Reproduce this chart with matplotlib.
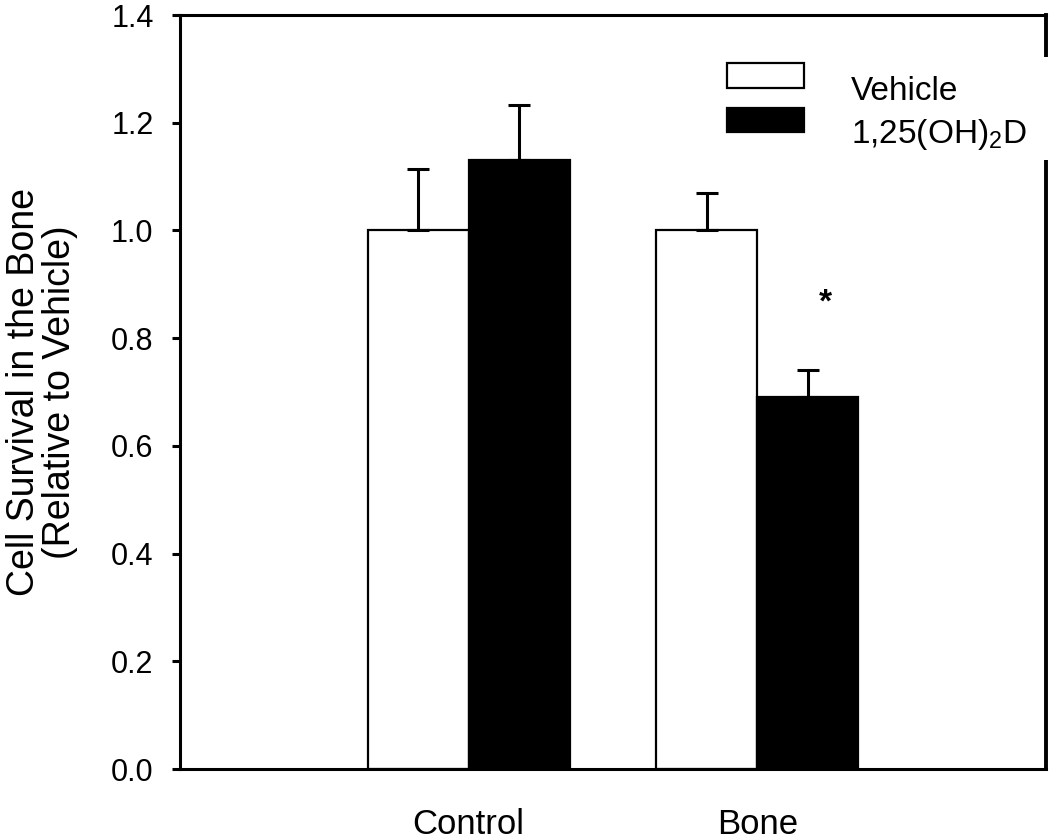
import matplotlib
matplotlib.use("Agg")
import matplotlib.pyplot as plt
import matplotlib.patches as mpatches

plt.rcParams['font.family'] = ['Liberation Sans', 'DejaVu Sans']
plt.rcParams['mathtext.fontset'] = 'custom'
plt.rcParams['mathtext.rm'] = 'Liberation Sans'
plt.rcParams['mathtext.default'] = 'regular'

# data
groups = ["Control", "Bone"]
series = ["Vehicle", "1,25(OH)$_2$D"]
vehicle = [1.00, 1.00]
vehicle_err = [0.115, 0.07]
treated = [1.13, 0.69]
treated_err = [0.103, 0.05]
colors = ["white", "black"]

fig = plt.figure(figsize=(10.5, 8.39), dpi=100)
ax = fig.add_axes([0.1714, 0.0834, 0.8248, 0.8987])

pos = [1, 2]
w = 0.35
err_kw = dict(ecolor="black", elinewidth=2.2, capsize=8, capthick=2.2)

ax.bar([p - w / 2 for p in pos], vehicle, w, color=colors[0], edgecolor="black",
       linewidth=1.6, yerr=[[0, 0], vehicle_err], error_kw=err_kw)
ax.bar([p + w / 2 for p in pos], treated, w, color=colors[1], edgecolor="black",
       linewidth=1.6, yerr=[[0, 0], treated_err], error_kw=err_kw)

# significance star over the treated bone bar
ax.text(pos[1] + w / 2 + 0.06, treated[1] + treated_err[1] + 0.125, "*",
        ha="center", va="center", fontsize=24, fontweight="bold")

ax.set_xlim(0, 3)
ax.set_ylim(0, 1.4)
ax.set_xticks(pos)
ax.set_xticklabels(groups, fontsize=25)
ax.set_yticks([0.0, 0.2, 0.4, 0.6, 0.8, 1.0, 1.2, 1.4])
ax.set_yticklabels(["0.0", "0.2", "0.4", "0.6", "0.8", "1.0", "1.2", "1.4"], fontsize=22)
ax.tick_params(axis="x", length=0, pad=28)
ax.tick_params(axis="y", direction="out", length=6, width=2.2, pad=13)
ax.set_ylabel("Cell Survival in the Bone\n(Relative to Vehicle)", fontsize=27,
              labelpad=24, linespacing=1.0)

for s in ["left", "bottom", "top"]:
    ax.spines[s].set_linewidth(2.2)
ax.spines["right"].set_linewidth(2.8)

# legend sits on a white box that also breaks the right border
ax.add_patch(mpatches.Rectangle((0.7905, 0.809), 0.3, 0.123, transform=fig.transFigure,
                                facecolor="white", edgecolor="none", zorder=6,
                                clip_on=False))
ax.add_patch(mpatches.Rectangle((0.632, 0.903), 0.088, 0.033, transform=ax.transAxes,
                                facecolor=colors[0], edgecolor="black", linewidth=1.6,
                                zorder=7))
ax.add_patch(mpatches.Rectangle((0.632, 0.845), 0.088, 0.032, transform=ax.transAxes,
                                facecolor=colors[1], edgecolor="black", linewidth=1.6,
                                zorder=7))
ax.text(0.7746, 0.887, series[0], transform=ax.transAxes, fontsize=24,
        va="baseline", zorder=7)
ax.text(0.7746, 0.830, series[1], transform=ax.transAxes, fontsize=24,
        va="baseline", zorder=7)

fig.savefig("out.png", dpi=100)
